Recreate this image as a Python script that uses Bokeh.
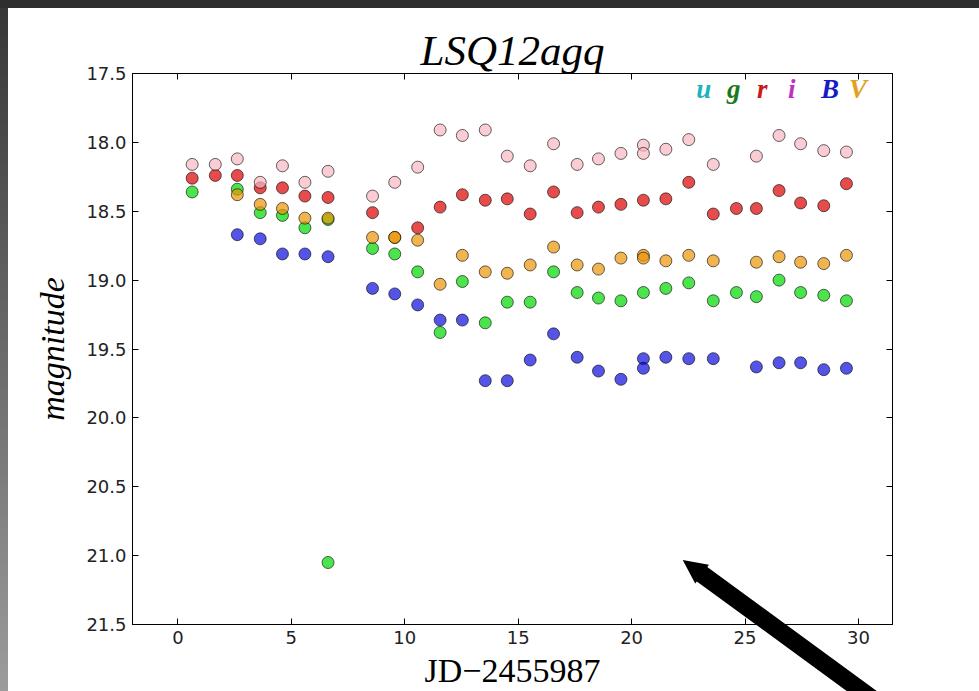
from bokeh.plotting import figure
from bokeh.models import (Range1d, LinearAxis, FixedTicker, PrintfTickFormatter,
                          Label, InlineStyleSheet)
from bokeh.embed import file_html
from bokeh.resources import INLINE
import numpy as np

# ---- light-curve data (days since JD 2455987, apparent magnitude) ----
x_ticks = [0, 5, 10, 15, 20, 25, 30]
y_ticks = [17.5, 18.0, 18.5, 19.0, 19.5, 20.0, 20.5, 21.0, 21.5]

pink_day = [0.63, 1.65, 2.62, 3.63, 4.61, 5.60, 6.62, 8.58, 9.56, 10.57, 11.56,
            12.54, 13.55, 14.52, 15.53, 16.56, 17.60, 18.54, 19.53, 20.52, 20.52,
            21.51, 22.52, 23.60, 25.50, 26.50, 27.45, 28.47, 29.47]
pink_mag = [18.16, 18.16, 18.12, 18.29, 18.17, 18.29, 18.21, 18.39, 18.29, 18.18, 17.91,
            17.95, 17.91, 18.10, 18.17, 18.01, 18.16, 18.12, 18.08, 18.02, 18.08,
            18.05, 17.98, 18.16, 18.10, 17.95, 18.01, 18.06, 18.07]

red_day = [0.63, 1.65, 2.62, 3.63, 4.61, 5.60, 6.62, 8.58, 10.57, 11.56, 12.54,
           13.55, 14.52, 15.53, 16.56, 17.60, 18.54, 19.53, 20.52, 21.51, 22.52,
           23.60, 24.62, 25.50, 26.50, 27.45, 28.47, 29.47]
red_mag = [18.26, 18.24, 18.24, 18.33, 18.33, 18.39, 18.40, 18.51, 18.62, 18.47, 18.38,
           18.42, 18.41, 18.52, 18.36, 18.51, 18.47, 18.45, 18.42, 18.41, 18.29,
           18.52, 18.48, 18.48, 18.35, 18.44, 18.46, 18.30]

orange_day = [2.62, 3.63, 4.61, 5.60, 6.62, 8.58, 9.56, 9.56, 10.57, 11.56, 12.54,
              13.55, 14.52, 15.53, 16.56, 17.60, 18.54, 19.53, 20.52, 20.52, 21.51,
              22.52, 23.60, 25.50, 26.50, 27.45, 28.47, 29.47]
orange_mag = [18.38, 18.45, 18.48, 18.55, 18.55, 18.69, 18.69, 18.69, 18.71, 19.03, 18.82,
              18.94, 18.95, 18.89, 18.76, 18.89, 18.92, 18.84, 18.82, 18.84, 18.86,
              18.82, 18.86, 18.87, 18.83, 18.87, 18.88, 18.82]

green_day = [0.63, 2.62, 3.63, 4.61, 5.60, 6.62, 6.62, 8.58, 9.56, 10.57, 11.56,
             12.54, 13.55, 14.52, 15.53, 16.56, 17.60, 18.54, 19.53, 20.52, 21.51,
             22.52, 23.60, 24.62, 25.50, 26.50, 27.45, 28.47, 29.47]
green_mag = [18.36, 18.34, 18.51, 18.53, 18.62, 18.56, 21.05, 18.77, 18.81, 18.94, 19.38,
             19.01, 19.31, 19.16, 19.16, 18.94, 19.09, 19.13, 19.15, 19.09, 19.06,
             19.02, 19.15, 19.09, 19.12, 19.00, 19.09, 19.11, 19.15]

blue_day = [2.62, 3.63, 4.61, 5.60, 6.62, 8.58, 9.56, 10.57, 11.56, 12.54, 13.55,
            14.52, 15.53, 16.56, 17.60, 18.54, 19.53, 20.52, 20.52, 21.51, 22.52,
            23.60, 25.50, 26.50, 27.45, 28.47, 29.47]
blue_mag = [18.67, 18.70, 18.81, 18.81, 18.83, 19.06, 19.10, 19.18, 19.29, 19.29, 19.73,
            19.73, 19.58, 19.39, 19.56, 19.66, 19.72, 19.57, 19.64, 19.56, 19.57,
            19.57, 19.63, 19.60, 19.60, 19.65, 19.64]

band_names = ["u", "g", "r", "i", "B", "V"]
band_colors = ["#1fb3bf", "#1a7a1a", "#c81a1a", "#c02ec8", "#1a1ac4", "#e0a21e"]
band_label_x = [23.18, 24.50, 25.76, 27.06, 28.75, 29.98]

W, H = 979, 691
serif = "Liberation Serif"
tick_font = "DejaVu Sans"

# ---- page frame: dark top edge, shaded left edge, and a pointer arrow ----
tip = np.array([682.7, 560.0])
u = np.array([179.0, 131.0]); u /= np.linalg.norm(u)
nrm = np.array([-u[1], u[0]])
head_len, head_half, shaft_half, shaft_len = 24.0, 11.6, 8.9, 260.0
arrow_pts = [tip,
             tip + head_len * u - head_half * nrm,
             tip + head_len * u - shaft_half * nrm,
             tip + shaft_len * u - shaft_half * nrm,
             tip + shaft_len * u + shaft_half * nrm,
             tip + head_len * u + shaft_half * nrm,
             tip + head_len * u + head_half * nrm]
poly = ", ".join("%.1fpx %.1fpx" % (q[0], q[1]) for q in arrow_pts)
page_css = InlineStyleSheet(css="""
:host {
  position: relative;
  background:
    linear-gradient(#2e2e2e, #2e2e2e) 0 0 / 100%% 8px no-repeat,
    linear-gradient(to bottom, #363636, #9c9c9c) 0 0 / 8px 100%% no-repeat,
    #ffffff;
}
:host::after {
  content: "";
  position: absolute;
  left: 0; top: 0; width: %dpx; height: %dpx;
  background: #000000;
  clip-path: polygon(%s);
  z-index: 100;
  pointer-events: none;
}
""" % (W, H, poly))

p = figure(width=W, height=H, output_backend="svg", toolbar_location=None,
           x_range=Range1d(-2, 31.5), y_range=Range1d(21.5, 17.5),
           min_border_left=132, min_border_right=87, min_border_top=73,
           min_border_bottom=65, background_fill_color="white",
           border_fill_color=None, outline_line_color="black",
           stylesheets=[page_css])
p.xgrid.visible = False
p.ygrid.visible = False

def style_axis(ax, ticks, fmt, show_labels):
    ax.ticker = FixedTicker(ticks=ticks)
    ax.formatter = PrintfTickFormatter(format=fmt)
    ax.major_tick_in = 6
    ax.major_tick_out = 0
    ax.minor_tick_in = 0
    ax.minor_tick_out = 0
    ax.axis_line_color = "black"
    ax.major_tick_line_color = "black"
    ax.major_label_text_font = tick_font
    if show_labels:
        ax.major_label_standoff = 6
        ax.major_label_text_font_size = "18px"
        ax.major_label_text_color = "#222222"
    else:
        ax.major_label_standoff = 0
        ax.major_label_text_font_size = "1px"
        ax.major_label_text_color = None

bottom_ax = p.below[0]
left_ax = p.left[0]
style_axis(bottom_ax, x_ticks, "%d", True)
style_axis(left_ax, y_ticks, "%.1f", True)
top_ax = LinearAxis()
right_ax = LinearAxis()
style_axis(top_ax, x_ticks, "%d", False)
style_axis(right_ax, y_ticks, "%.1f", False)
p.add_layout(top_ax, "above")
p.add_layout(right_ax, "right")

left_ax.axis_label = "magnitude"
left_ax.axis_label_text_font = serif
left_ax.axis_label_text_font_style = "italic"
left_ax.axis_label_text_font_size = "34px"
left_ax.axis_label_text_color = "black"
left_ax.axis_label_standoff = 12

bottom_ax.axis_label = "JD\u22122455987"
bottom_ax.axis_label_text_font = serif
bottom_ax.axis_label_text_font_style = "normal"
bottom_ax.axis_label_text_font_size = "34px"
bottom_ax.axis_label_text_color = "black"
bottom_ax.axis_label_text_line_height = 0.7
bottom_ax.axis_label_standoff = 5

p.title.text = "LSQ12agq"
p.title.text_font = serif
p.title.text_font_style = "italic"
p.title.text_font_size = "43px"
p.title.text_color = "black"
p.title.align = "center"
p.title.standoff = 0

# ---- photometry points ----
series = [
    (blue_day, blue_mag, "#0c0cdb"),
    (green_day, green_mag, "#00d800"),
    (orange_day, orange_mag, "#ea9405"),
    (red_day, red_mag, "#dc0000"),
    (pink_day, pink_mag, "#f8b7c1"),
]
for d, m, c in series:
    p.scatter(d, m, size=12, fill_color=c, fill_alpha=0.7,
              line_color="black", line_alpha=0.6, line_width=1)

# ---- band key ----
for name, col, bx in zip(band_names, band_colors, band_label_x):
    p.add_layout(Label(x=bx, y=17.5, y_offset=-15, text=name,
                       text_font=serif, text_font_style="bold italic",
                       text_font_size="27px", text_align="center",
                       text_baseline="alphabetic", text_color=col))

open("out.html", "w").write(file_html(p, INLINE))
